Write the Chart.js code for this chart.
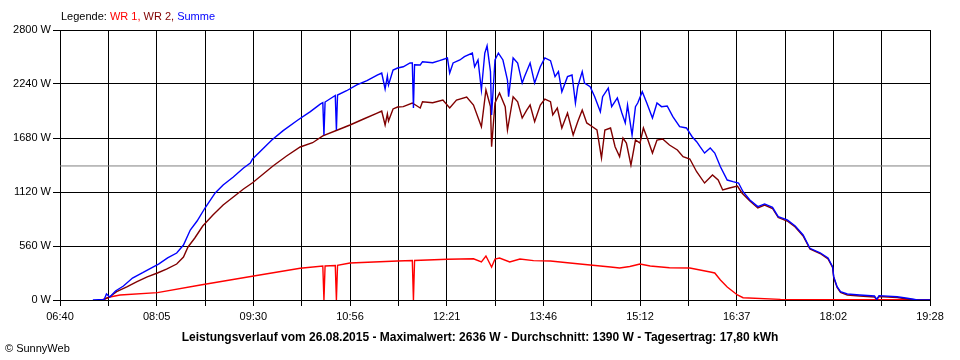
<!DOCTYPE html>
<html>
<head>
<meta charset="utf-8">
<script src="https://cdn.jsdelivr.net/npm/chart.js@4.4.0/dist/chart.umd.min.js"></script>
<style>
  body { margin: 0; background: #ffffff; }
</style>
</head>
<body>
<canvas id="leistung" width="960" height="360"></canvas>
<script>
// x labels (every second grid line carries a label)
const timeLabels = ["06:40", "08:05", "09:30", "10:56", "12:21", "13:46", "15:12", "16:37", "18:02", "19:28"];
const yTicks = [0, 560, 1120, 1680, 2240, 2800];
const average = 1390; // Durchschnitt, grey line

// WR 1 (red)
const wr1 = [
  ["07:17", 0], ["07:24", 31], ["07:33", 52], ["08:06", 76], ["08:44", 156], ["09:31", 249],
  ["10:12", 329], ["10:32", 353], ["10:33", 0], ["10:34", 353], ["10:43", 358], ["10:44", 0],
  ["10:45", 360], ["10:56", 384], ["11:38", 404], ["11:51", 410], ["11:52", 0], ["11:53", 410],
  ["12:22", 422], ["12:45", 428], ["12:52", 394], ["12:56", 456], ["13:01", 342], ["13:04", 425],
  ["13:08", 435], ["13:17", 394], ["13:26", 425], ["13:38", 408], ["13:53", 404], ["14:08", 387],
  ["14:19", 373], ["14:37", 353], ["14:46", 342], ["14:54", 332], ["15:03", 347], ["15:12", 373],
  ["15:21", 353], ["15:38", 335], ["15:56", 332], ["16:14", 290], ["16:18", 280], ["16:23", 207],
  ["16:29", 135], ["16:38", 52], ["16:43", 24], ["17:16", 7], ["19:28", 3]
];

// WR 2 (dark red)
const wr2 = [
  ["07:18", 0], ["07:24", 34], ["07:30", 86], ["07:39", 135], ["07:48", 190], ["07:57", 239],
  ["08:06", 280], ["08:14", 321], ["08:23", 373], ["08:29", 446], ["08:33", 550], ["08:39", 643],
  ["08:46", 767], ["08:55", 881], ["09:04", 985], ["09:13", 1068], ["09:22", 1151], ["09:30", 1216],
  ["09:48", 1390], ["10:00", 1493], ["10:12", 1587], ["10:23", 1631], ["10:32", 1701], ["10:45", 1763],
  ["10:56", 1815], ["11:08", 1877], ["11:20", 1939], ["11:24", 1960], ["11:27", 1815], ["11:29", 1929],
  ["11:30", 1856], ["11:34", 1981], ["11:38", 2001], ["11:43", 2005], ["11:51", 2043], ["11:58", 1991],
  ["12:00", 2056], ["12:09", 2046], ["12:18", 2074], ["12:24", 1991], ["12:30", 2074], ["12:39", 2105],
  ["12:45", 2022], ["12:52", 1797], ["12:56", 2178], ["13:00", 2005], ["13:01", 1590], ["13:04", 2043],
  ["13:08", 2147], ["13:13", 2005], ["13:15", 1763], ["13:20", 2108], ["13:24", 2056], ["13:28", 1887],
  ["13:32", 1970], ["13:35", 2022], ["13:39", 1849], ["13:44", 2022], ["13:48", 2084], ["13:53", 2056],
  ["13:55", 1919], ["13:59", 1991], ["14:03", 1784], ["14:08", 1939], ["14:13", 1711], ["14:17", 1849],
  ["14:21", 1970], ["14:25", 1836], ["14:30", 1797], ["14:34", 1763], ["14:38", 1473], ["14:41", 1763],
  ["14:46", 1784], ["14:50", 1590], ["14:54", 1486], ["14:57", 1680], ["15:00", 1628], ["15:04", 1400],
  ["15:08", 1659], ["15:12", 1628], ["15:15", 1784], ["15:19", 1659], ["15:23", 1524], ["15:27", 1659],
  ["15:32", 1670], ["15:38", 1607], ["15:45", 1556], ["15:50", 1486], ["15:56", 1462], ["16:02", 1330],
  ["16:09", 1213], ["16:16", 1296], ["16:21", 1244], ["16:25", 1141], ["16:31", 1161], ["16:38", 1182],
  ["16:42", 1110], ["16:49", 1027], ["16:56", 954], ["17:02", 985], ["17:09", 949], ["17:14", 855],
  ["17:22", 819], ["17:29", 757], ["17:36", 664], ["17:42", 529], ["17:51", 482], ["17:58", 425],
  ["18:02", 337], ["18:03", 233], ["18:06", 130], ["18:09", 78], ["18:15", 52], ["18:26", 41],
  ["18:39", 31], ["18:41", 5], ["18:43", 36], ["18:59", 26], ["19:08", 10], ["19:17", 0], ["19:28", 0]
];

// Summe (blue)
const summe = [
  ["07:09", 0], ["07:19", 5], ["07:20", 34], ["07:21", 62], ["07:24", 31], ["07:29", 93],
  ["07:36", 145], ["07:44", 228], ["07:53", 283], ["08:02", 342], ["08:07", 373], ["08:15", 436],
  ["08:23", 487], ["08:29", 570], ["08:35", 726], ["08:41", 819], ["08:48", 954], ["08:57", 1110],
  ["09:04", 1193], ["09:13", 1276], ["09:22", 1369], ["09:28", 1421], ["09:30", 1462], ["09:47", 1659],
  ["09:57", 1756], ["10:10", 1867], ["10:21", 1953], ["10:30", 2033], ["10:32", 2046], ["10:33", 1711],
  ["10:34", 2053], ["10:43", 2121], ["10:44", 1763], ["10:45", 2126], ["10:53", 2170], ["11:02", 2230],
  ["11:11", 2274], ["11:20", 2333], ["11:24", 2354], ["11:27", 2188], ["11:29", 2323], ["11:30", 2230],
  ["11:34", 2385], ["11:38", 2406], ["11:43", 2419], ["11:49", 2458], ["11:51", 2458], ["11:52", 1991],
  ["11:53", 2440], ["11:58", 2437], ["12:00", 2471], ["12:09", 2461], ["12:15", 2482], ["12:22", 2510],
  ["12:24", 2354], ["12:27", 2458], ["12:33", 2489], ["12:37", 2523], ["12:44", 2561], ["12:46", 2419],
  ["12:49", 2489], ["12:52", 2178], ["12:55", 2561], ["12:57", 2636], ["13:00", 2368], ["13:01", 1919],
  ["13:04", 2489], ["13:07", 2561], ["13:11", 2489], ["13:15", 2281], ["13:16", 2108], ["13:20", 2510],
  ["13:24", 2458], ["13:28", 2250], ["13:30", 2316], ["13:35", 2458], ["13:39", 2250], ["13:44", 2419],
  ["13:48", 2510], ["13:53", 2482], ["13:57", 2316], ["14:00", 2368], ["14:03", 2160], ["14:08", 2316],
  ["14:12", 2333], ["14:15", 2043], ["14:17", 2212], ["14:21", 2368], ["14:23", 2250], ["14:28", 2212],
  ["14:32", 2108], ["14:37", 1953], ["14:39", 2108], ["14:44", 2198], ["14:47", 2005], ["14:52", 2095],
  ["14:56", 1939], ["14:59", 1836], ["15:01", 2022], ["15:05", 1711], ["15:08", 2005], ["15:10", 2043],
  ["15:14", 2160], ["15:18", 2043], ["15:23", 1887], ["15:27", 2043], ["15:31", 2005], ["15:36", 2012],
  ["15:41", 1901], ["15:47", 1797], ["15:53", 1784], ["15:58", 1693], ["16:02", 1642], ["16:05", 1590],
  ["16:09", 1524], ["16:14", 1576], ["16:18", 1524], ["16:23", 1382], ["16:29", 1244], ["16:34", 1227],
  ["16:39", 1213], ["16:43", 1123], ["16:49", 1037], ["16:56", 968], ["17:02", 996], ["17:09", 961],
  ["17:14", 864], ["17:22", 830], ["17:29", 767], ["17:36", 674], ["17:42", 536], ["17:51", 490],
  ["17:58", 436], ["18:02", 345], ["18:03", 242], ["18:06", 138], ["18:09", 86], ["18:15", 62],
  ["18:26", 52], ["18:39", 41], ["18:41", 7], ["18:43", 45], ["18:59", 34], ["19:08", 18],
  ["19:17", 0], ["19:28", 0]
];

const legendParts = [["Legende: ", "#000000"], ["WR 1, ", "#ff0000"], ["WR 2, ", "#800000"], ["Summe", "#0000ff"]];
const titleText = "Leistungsverlauf vom 26.08.2015 - Maximalwert: 2636 W - Durchschnitt: 1390 W - Tagesertrag: 17,80 kWh";
const FONT = '"Liberation Sans", Arial, sans-serif';

function toMin(t) {
  const p = t.split(":");
  return parseInt(p[0], 10) * 60 + parseInt(p[1], 10);
}
function points(series) {
  return series.map(([t, v]) => ({ x: toMin(t), y: v }));
}

const xMin = toMin(timeLabels[0]);
const xMax = toMin(timeLabels[timeLabels.length - 1]);
const gridCount = (timeLabels.length - 1) * 2; // one unlabeled line between labels

// legend, title and copyright texts
const sunnyText = {
  id: "sunnyText",
  afterDraw(chart) {
    const c = chart.ctx;
    c.save();
    c.font = "11px " + FONT;
    c.textBaseline = "alphabetic";
    c.textAlign = "left";
    let x = 61;
    legendParts.forEach(([txt, col]) => {
      c.fillStyle = col;
      c.fillText(txt, x, 20);
      x += c.measureText(txt).width;
    });
    c.fillStyle = "#000000";
    c.font = "bold 12px " + FONT;
    c.textAlign = "center";
    c.fillText(titleText, 480, 341);
    c.font = "11px " + FONT;
    c.textAlign = "left";
    c.fillText("\u00A9 SunnyWeb", 5, 352);
    c.restore();
  },
};

new Chart(document.getElementById("leistung"), {
  type: "line",
  data: {
    datasets: [
      {
        label: "Summe",
        data: points(summe),
        borderColor: "#0000ff",
        borderWidth: 1.4,
        order: 1,
      },
      {
        label: "WR 2",
        data: points(wr2),
        borderColor: "#800000",
        borderWidth: 1.4,
        order: 2,
      },
      {
        label: "WR 1",
        data: points(wr1),
        borderColor: "#ff0000",
        borderWidth: 1.4,
        order: 3,
      },
      {
        label: "Durchschnitt",
        data: [{ x: xMin, y: average }, { x: xMax, y: average }],
        borderColor: "#808080",
        borderWidth: 1,
        order: 10,
      },
    ],
  },
  options: {
    responsive: false,
    animation: false,
    events: [],
    layout: { padding: { top: 30, right: 30, bottom: 30, left: 0 } },
    elements: {
      point: { radius: 0 },
      line: { tension: 0, fill: false },
    },
    plugins: {
      legend: { display: false },
      tooltip: { enabled: false },
      title: { display: false },
    },
    scales: {
      x: {
        type: "linear",
        min: xMin,
        max: xMax,
        afterBuildTicks: (scale) => {
          const ticks = [];
          for (let i = 0; i <= gridCount; i++) {
            ticks.push({ value: xMin + (i * (xMax - xMin)) / gridCount });
          }
          scale.ticks = ticks;
        },
        afterFit: (scale) => { scale.height = 30; },
        grid: { color: "#000000", lineWidth: 1, tickLength: 6 },
        border: { color: "#000000" },
        ticks: {
          autoSkip: false,
          maxRotation: 0,
          padding: 4,
          color: "#000000",
          font: { family: FONT, size: 11 },
          callback: (value, index) => (index % 2 === 0 ? timeLabels[index / 2] : ""),
        },
      },
      y: {
        min: yTicks[0],
        max: yTicks[yTicks.length - 1],
        afterBuildTicks: (scale) => {
          scale.ticks = yTicks.map((v) => ({ value: v }));
        },
        afterFit: (scale) => { scale.width = 60; },
        grid: { color: "#000000", lineWidth: 1, tickLength: 7 },
        border: { color: "#000000" },
        ticks: {
          padding: 2,
          color: "#000000",
          font: { family: FONT, size: 11 },
          callback: (value) => value + " W",
        },
      },
    },
  },
  plugins: [sunnyText],
});
</script>
</body>
</html>
